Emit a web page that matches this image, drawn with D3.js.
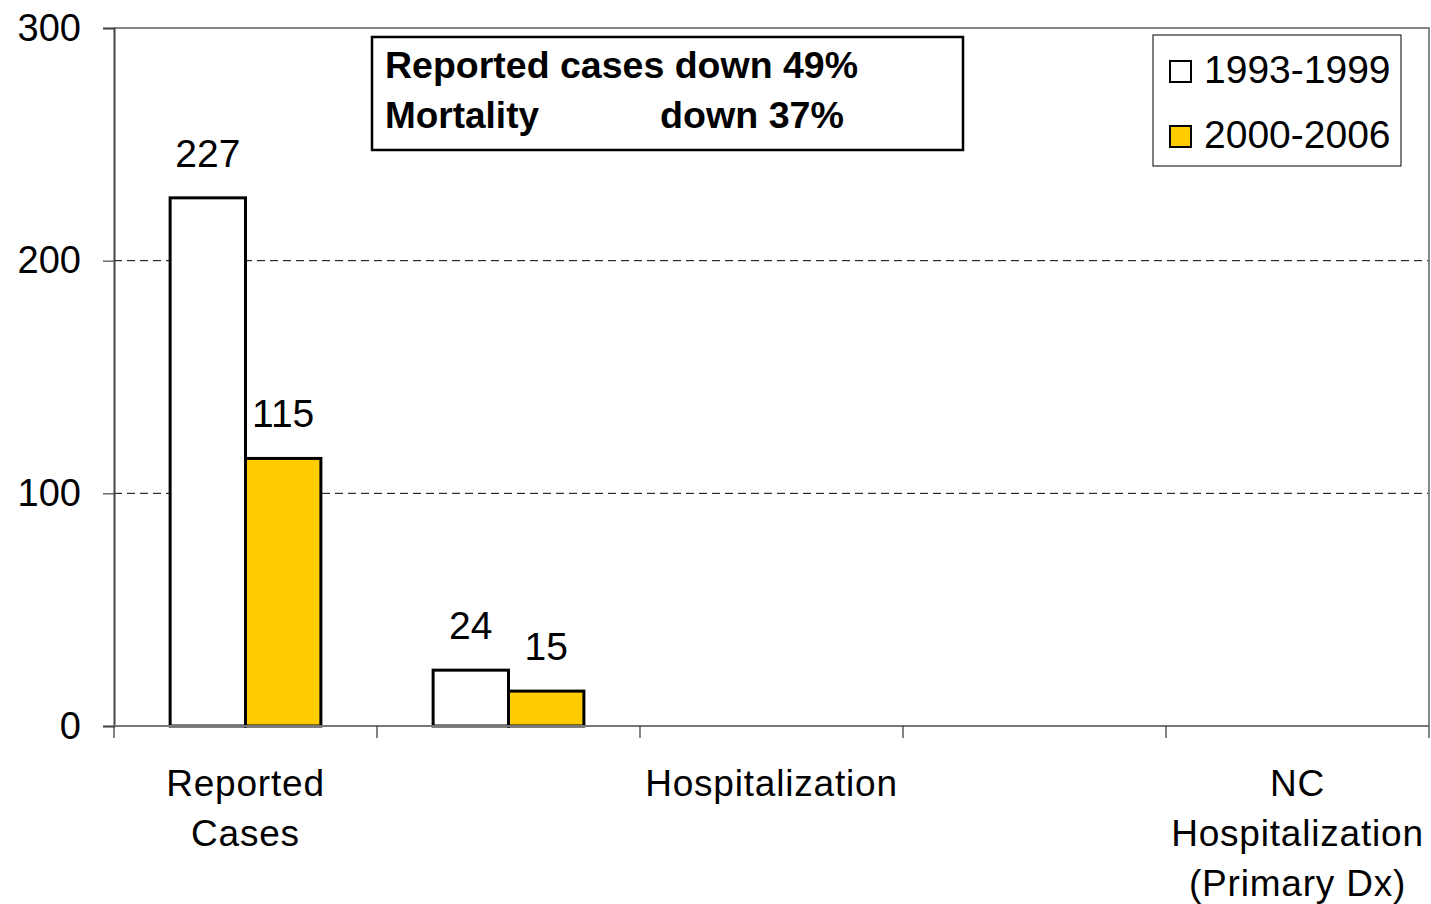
<!DOCTYPE html>
<html lang="en">
<head>
    <meta charset="UTF-8">
    <title>Reported cases and mortality</title>
    <script src="https://d3js.org/d3.v7.min.js"></script>
    <style>
        body { margin: 0; background: #fff; }
        svg { font-family: "Liberation Sans", Arial, sans-serif; }
    </style>
</head>
<body>
    <svg id="chart"></svg>
    <script>
    // Values
    const categories = ["c0", "c1", "c2", "c3", "c4"];
    const tickLabels = [["Reported", "Cases"], [], ["Hospitalization"], [], ["NC", "Hospitalization", "(Primary Dx)"]];
    const seriesNames = ["1993-1999", "2000-2006"];
    const values1993 = [227, 24, null, null, null];
    const values2000 = [115, 15, null, null, null];
    const yTicks = [0, 100, 200, 300];
    const noteLines = ["Reported cases down 49%", "Mortality", "down 37%"];

    const width = 1431, height = 904;
    const margin = { top: 28, right: 2, bottom: 178, left: 114 };
    const colors = ["#ffffff", "#ffcc00"];

    const svg = d3.select('#chart').attr('width', width).attr('height', height);

    const x = d3.scaleBand()
        .domain(categories)
        .range([margin.left, width - margin.right])
        .padding(0);
    const y = d3.scaleLinear()
        .domain([0, 300])
        .range([height - margin.bottom, margin.top]);

    // inner scale for the two series; gap of ~148% of a bar on each side
    const gap = x.bandwidth() * 0.2134;
    const x1 = d3.scaleBand()
        .domain(seriesNames)
        .range([gap, x.bandwidth() - gap])
        .padding(0);

    // gridlines
    svg.append('g')
        .selectAll('line')
        .data(yTicks.filter(d => d > 0 && d < 300))
        .enter().append('line')
        .attr('x1', margin.left).attr('x2', width - margin.right)
        .attr('y1', d => y(d)).attr('y2', d => y(d))
        .attr('stroke', '#000')
        .attr('stroke-width', 1)
        .attr('stroke-dasharray', '8,5');

    // top and right frame
    svg.append('path')
        .attr('d', `M${margin.left},${y(300)}H${width - margin.right}V${y(0)}`)
        .attr('fill', 'none')
        .attr('stroke', '#888')
        .attr('stroke-width', 2);

    // y axis
    const yAxis = svg.append('g')
        .attr('transform', `translate(${margin.left},0)`)
        .call(d3.axisLeft(y).tickValues(yTicks).tickSize(11).tickPadding(22));
    yAxis.select('.domain').attr('stroke', '#444').attr('stroke-width', 2);
    yAxis.selectAll('.tick line').attr('stroke', '#444').attr('stroke-width', 1.2);
    yAxis.selectAll('.tick text')
        .attr('font-size', 38)
        .attr('font-family', '"Liberation Sans", Arial, sans-serif')
        .attr('fill', '#000');

    // bars
    const series = [values1993, values2000];
    series.forEach((vals, si) => {
        const rows = categories.map((c, i) => ({ c, v: vals[i] })).filter(d => d.v != null);
        svg.append('g')
            .selectAll('rect')
            .data(rows)
            .enter().append('rect')
            .attr('x', d => x(d.c) + x1(seriesNames[si]))
            .attr('y', d => y(d.v))
            .attr('width', x1.bandwidth())
            .attr('height', d => y(0) - y(d.v))
            .attr('fill', colors[si])
            .attr('stroke', '#000')
            .attr('stroke-width', 3);
        svg.append('g')
            .selectAll('text')
            .data(rows)
            .enter().append('text')
            .attr('x', d => x(d.c) + x1(seriesNames[si]) + x1.bandwidth() / 2)
            .attr('y', d => y(d.v) - 31)
            .attr('text-anchor', 'middle')
            .attr('font-size', 39)
            .text(d => d.v);
    });

    // x axis
    const xAxis = svg.append('g')
        .attr('transform', `translate(0,${y(0)})`);
    xAxis.append('line')
        .attr('x1', margin.left).attr('x2', width - margin.right)
        .attr('stroke', '#777').attr('stroke-width', 2);
    const edges = categories.map(c => x(c)).concat([width - margin.right]);
    xAxis.selectAll('line.tk')
        .data(edges)
        .enter().append('line')
        .attr('class', 'tk')
        .attr('x1', d => d).attr('x2', d => d)
        .attr('y1', 0).attr('y2', 12)
        .attr('stroke', '#333').attr('stroke-width', 1.2);
    categories.forEach((c, i) => {
        const t = xAxis.append('text')
            .attr('x', x(c) + x.bandwidth() / 2)
            .attr('y', 70)
            .attr('text-anchor', 'middle')
            .attr('font-size', 37)
            .attr('letter-spacing', 0.8);
        tickLabels[i].forEach((line, j) => {
            t.append('tspan')
                .attr('x', x(c) + x.bandwidth() / 2)
                .attr('dy', j === 0 ? 0 : 50)
                .text(line);
        });
    });

    // annotation box
    const note = svg.append('g');
    note.append('rect')
        .attr('x', 372).attr('y', 37)
        .attr('width', 591).attr('height', 113)
        .attr('fill', '#fff').attr('stroke', '#000').attr('stroke-width', 2.5);
    note.append('text')
        .attr('x', 385).attr('y', 78)
        .attr('font-size', 36).attr('font-weight', 'bold')
        .attr('textLength', 473).attr('lengthAdjust', 'spacingAndGlyphs')
        .text(noteLines[0]);
    note.append('text')
        .attr('x', 385).attr('y', 128)
        .attr('font-size', 36).attr('font-weight', 'bold')
        .attr('textLength', 154).attr('lengthAdjust', 'spacingAndGlyphs')
        .text(noteLines[1]);
    note.append('text')
        .attr('x', 660).attr('y', 128)
        .attr('font-size', 36).attr('font-weight', 'bold')
        .attr('textLength', 184).attr('lengthAdjust', 'spacingAndGlyphs')
        .text(noteLines[2]);

    // legend
    const legend = svg.append('g');
    legend.append('rect')
        .attr('x', 1153).attr('y', 35)
        .attr('width', 248).attr('height', 131)
        .attr('fill', '#fff').attr('stroke', '#000').attr('stroke-width', 1);
    seriesNames.forEach((name, i) => {
        legend.append('rect')
            .attr('x', 1170).attr('y', 61 + i * 65)
            .attr('width', 21).attr('height', 21)
            .attr('fill', colors[i]).attr('stroke', '#000').attr('stroke-width', 2);
        legend.append('text')
            .attr('x', 1204).attr('y', 83 + i * 65)
            .attr('font-size', 39)
            .text(name);
    });
    </script>
</body>
</html>
